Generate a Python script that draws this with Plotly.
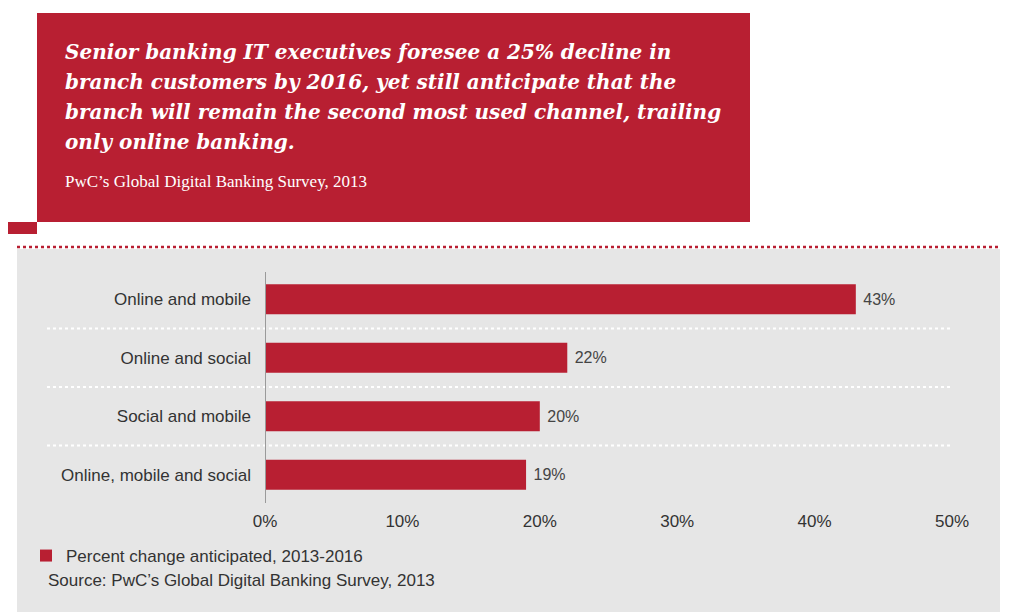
import plotly.graph_objects as go

categories = ["Online and mobile", "Online and social", "Social and mobile", "Online, mobile and social"]
values = [43, 22, 20, 19]
value_labels = ["43%", "22%", "20%", "19%"]
tick_vals = [0, 10, 20, 30, 40, 50]
tick_text = ["0%", "10%", "20%", "30%", "40%", "50%"]
series_name = "Percent change anticipated, 2013-2016"
headline = [
    "Senior banking IT executives foresee a 25% decline in",
    "branch customers by 2016, yet still anticipate that the",
    "branch will remain the second most used channel, trailing",
    "only online banking.",
]
headline_source = "PwC\u2019s Global Digital Banking Survey, 2013"
source_note = "Source: PwC\u2019s Global Digital Banking Survey, 2013"

RED = "#b81f32"
GRAY = "#e6e6e6"
OFF = 8  # page body margin
W, H = 1024 - OFF, 616 - OFF
# plot area in reference (screen) pixels: x 265..952, y 270..504
L, R, T, B = 265 - OFF, W - (952 - OFF), 270 - OFF, H - (504 - OFF)
PW = W - L - R
PH = H - T - B


def px(x):
    return (x - OFF - L) / PW


def py(y):
    return (H - B - (y - OFF)) / PH


fig = go.Figure()
fig.add_trace(go.Bar(
    x=values, y=categories, orientation="h",
    marker=dict(color=RED, line=dict(width=0)),
    width=0.51,
    text=value_labels, textposition="outside", texttemplate=" %{text}",
    textfont=dict(family="Liberation Sans", size=16, color="#444444"),
    cliponaxis=False,
    name=series_name, showlegend=True,
    hoverinfo="x+y",
))

shapes = []
# gray panel
shapes.append(dict(type="rect", xref="paper", yref="paper", x0=px(17), x1=px(1000), y0=py(249), y1=py(612),
                   fillcolor=GRAY, line=dict(width=0), layer="below"))
# red dotted line
shapes.append(dict(type="line", xref="paper", yref="paper", x0=px(17), x1=px(1000), y0=py(247), y1=py(247),
                   line=dict(color=RED, width=2.5, dash="dot"), layer="above"))
# red headline box
shapes.append(dict(type="rect", xref="paper", yref="paper", x0=px(37), x1=px(750), y0=py(13), y1=py(222),
                   fillcolor=RED, line=dict(width=0), layer="below"))
shapes.append(dict(type="rect", xref="paper", yref="paper", x0=px(8), x1=px(37), y0=py(222), y1=py(234),
                   fillcolor=RED, line=dict(width=0), layer="below"))
# white dotted separators between categories
for i in range(len(categories) - 1):
    shapes.append(dict(type="line", xref="paper", yref="y", x0=px(47), x1=px(952), y0=i + 0.5, y1=i + 0.5,
                       line=dict(color="white", width=2, dash="dot"), layer="above"))
# vertical axis line
shapes.append(dict(type="line", xref="x", yref="paper", x0=0, x1=0, y0=py(503), y1=py(272),
                   line=dict(color="#9a9a9a", width=2), layer="above"))

annotations = []
line_y = [52, 82, 112, 142]
for txt, yy in zip(headline, line_y):
    annotations.append(dict(text=txt, xref="paper", yref="paper", x=px(63), y=py(yy), xanchor="left",
                            yanchor="middle", showarrow=False,
                            font=dict(family="DejaVu Serif", size=20, color="white", weight="bold", style="italic")))
annotations.append(dict(text=headline_source, xref="paper", yref="paper", x=px(63), y=py(181), xanchor="left",
                        yanchor="middle", showarrow=False,
                        font=dict(family="Liberation Serif", size=17, color="white")))
annotations.append(dict(text=source_note, xref="paper", yref="paper", x=px(46), y=py(580), xanchor="left",
                        yanchor="middle", showarrow=False,
                        font=dict(family="Liberation Sans", size=17, color="#333333")))

fig.update_layout(
    width=W, height=H,
    margin=dict(l=L, r=R, t=T, b=B, pad=0),
    paper_bgcolor="white", plot_bgcolor="rgba(0,0,0,0)",
    shapes=shapes, annotations=annotations,
    bargap=0.49,
    legend=dict(x=px(26), y=py(556), xanchor="left", yanchor="middle", orientation="h",
                bgcolor="rgba(0,0,0,0)", font=dict(family="Liberation Sans", size=17, color="#333333"),
                itemwidth=30),
    xaxis=dict(range=[0, 50], tickvals=tick_vals, ticktext=tick_text, showgrid=False, zeroline=False,
               showline=False, ticks="", tickfont=dict(family="Liberation Sans", size=17, color="#333333"),
               ticklabelstandoff=5, fixedrange=True),
    yaxis=dict(autorange="reversed", showgrid=False, zeroline=False, showline=False, ticks="",
               tickfont=dict(family="Liberation Sans", size=17, color="#333333"),
               ticklabelstandoff=13, fixedrange=True),
    font=dict(family="Liberation Sans"),
)

fig.write_html("out.html")
